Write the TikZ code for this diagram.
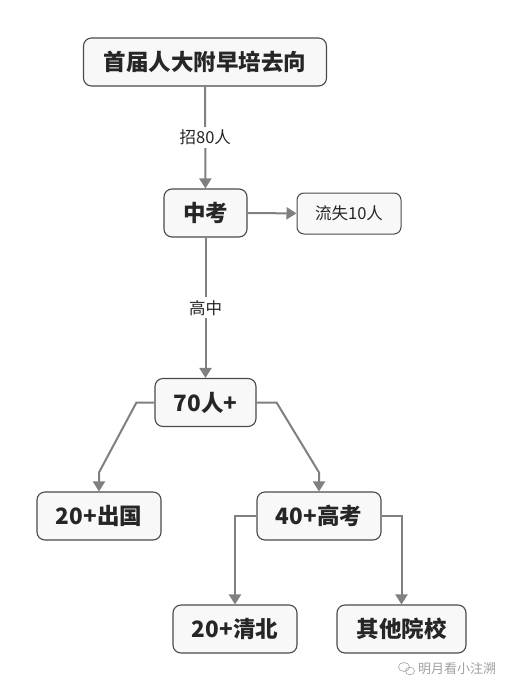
\documentclass[tikz,border=0pt]{standalone}
\usepackage{fontspec}
\setmainfont{Noto Sans CJK SC}
\usetikzlibrary{arrows.meta}
\definecolor{boxline}{HTML}{4A4A4A}
\definecolor{boxfill}{HTML}{F8F8F8}
\definecolor{connc}{HTML}{808080}
\definecolor{textc}{HTML}{262626}
\definecolor{wmc}{HTML}{A0A0A0}
\begin{document}
\begin{tikzpicture}[x=1pt,y=-1pt,
  box/.style={draw=boxline, fill=boxfill, rounded corners=8pt, line width=1.1pt,
    minimum height=48pt, inner sep=0pt, text=textc,
    font=\fontsize{22.5}{25}\selectfont\bfseries},
  smallbox/.style={draw=boxline, fill=boxfill, rounded corners=7pt, line width=1pt,
    minimum height=41pt, inner sep=0pt, text=textc,
    font=\fontsize{16.5}{19}\selectfont},
  conn/.style={draw=connc, line width=2pt, -{Triangle[width=12pt,length=10pt]}},
  lab/.style={fill=white, text=textc, inner sep=3pt, font=\fontsize{16.5}{19}\selectfont}]
\useasboundingbox (0,0) rectangle (504,691);
\fill[white] (0,0) rectangle (504,691);

\node[box, minimum width=243pt] (top) at (205,62) {首届人大附早培去向};
\node[box, minimum width=83pt] (zk) at (205.5,213) {中考};
\node[smallbox, minimum width=104pt] (ls) at (349,213.5) {流失10人};
\node[box, minimum width=101pt] (n70) at (205.5,402.5) {70人+};
\node[box, minimum width=124pt] (cg) at (99,516) {20+出国};
\node[box, minimum width=124pt] (gk) at (319,516) {40+高考};
\node[box, minimum width=124pt] (qb) at (235,629) {20+清北};
\node[box, minimum width=129pt] (qt) at (401.5,629) {其他院校};

\draw[conn] (top) -- node[lab]{招80人} (zk);
\draw[conn] (zk) -- (ls);
\draw[conn] (zk) -- node[lab]{高中} (n70);
\draw[conn] (n70.west) -- ++(-18,0) -- ([yshift=19pt]cg.north) -- (cg.north);
\draw[conn] (n70.east) -- ++(20,0) -- ([yshift=19pt]gk.north) -- (gk.north);
\draw[conn] (gk.west) -| (qb.north);
\draw[conn] (gk.east) -| (qt.north);

\node[text=wmc, font=\fontsize{13}{15}\selectfont, inner sep=0pt, anchor=west] (wm) at (418,669) {明月看小注溯};
\draw[wmc, line width=0.6pt] (404,667) ellipse (5.5pt and 4.5pt);
\draw[wmc, line width=0.6pt] (410,671) ellipse (4.5pt and 3.8pt);
\end{tikzpicture}
\end{document}
